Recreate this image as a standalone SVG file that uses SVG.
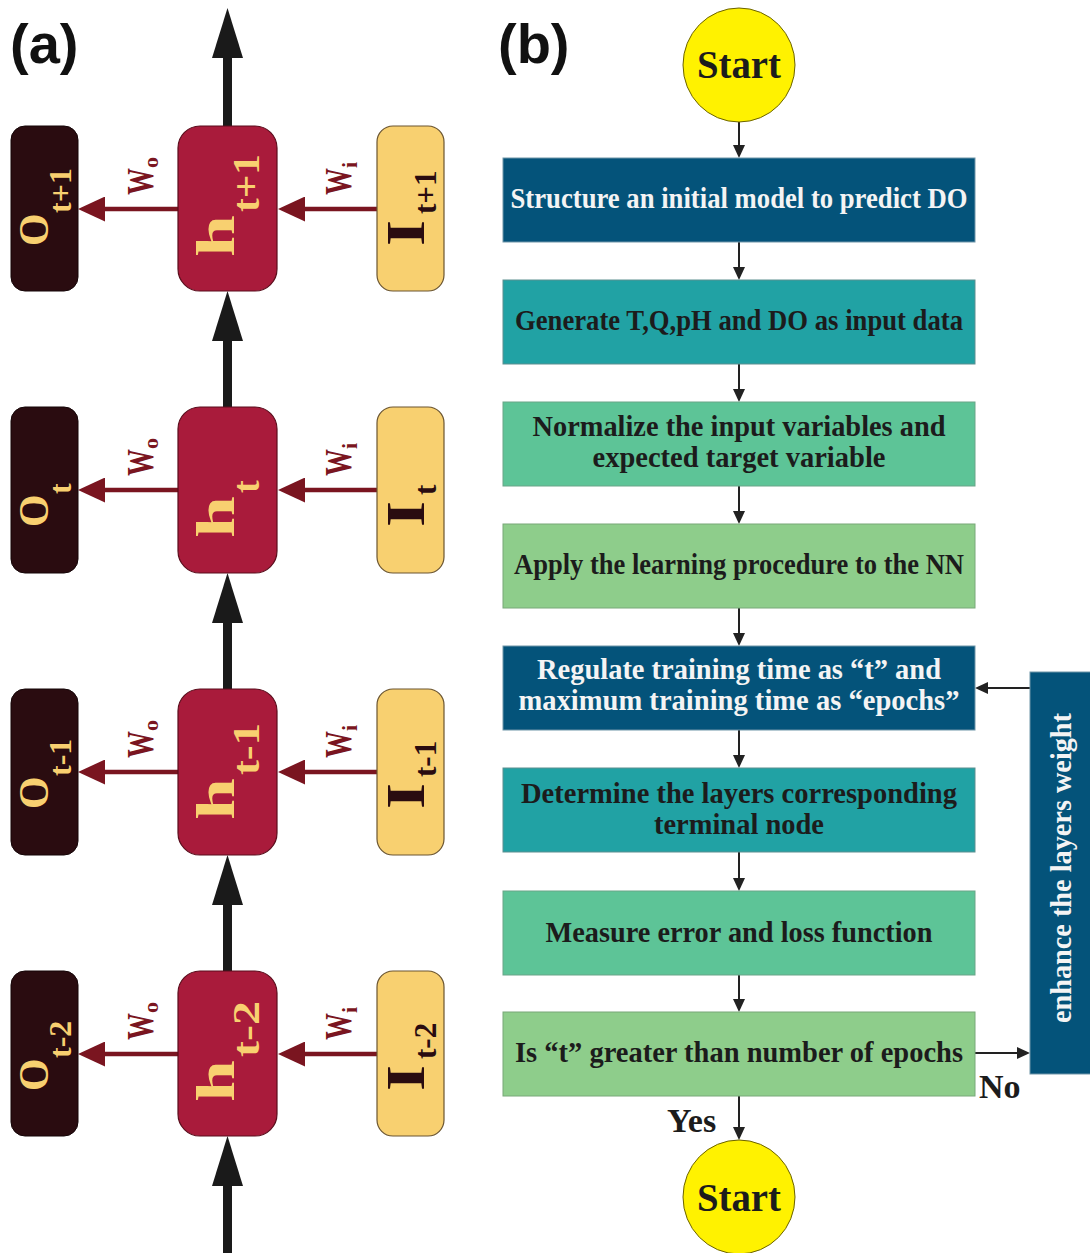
<svg xmlns="http://www.w3.org/2000/svg" width="1090" height="1253" viewBox="0 0 1090 1253">
<style>
.ser{font-family:"Liberation Serif","Times New Roman",serif;font-weight:bold}
.lab{font-family:"Liberation Sans",Arial,sans-serif;font-weight:bold;font-size:56px;fill:#111}
.obox{fill:#2a0c10;stroke:#140507;stroke-width:1}
.hbox{fill:#a91b3b;stroke:#5a0d1c;stroke-width:1.2}
.ibox{fill:#f8d070;stroke:#6b5530;stroke-width:1.2}
.ytxt{fill:#f8d070}
.dtxt{fill:#2a0c10}
.wtxt{fill:#7a1520}
.blue{fill:#04537a;stroke:#6f95a8;stroke-width:1}
.teal{fill:#21a2a4;stroke:#5c8f90;stroke-width:1}
.mint{fill:#5dc497;stroke:#6aa588;stroke-width:1}
.lg{fill:#8ecd8b;stroke:#78a878;stroke-width:1}
.bt{font-size:29px;text-anchor:middle}
.wt{fill:#f4f4f4}
.kt{fill:#1c1c1c}
.circ{fill:#fff200;stroke:#6b6200;stroke-width:1}
.big{stroke:#1a1a1a;stroke-width:9;fill:none}
.red{stroke:#7a1520;stroke-width:4.5;fill:none}
.thin{stroke:#222;stroke-width:2;fill:none}
</style>
<defs>
<marker id="mBig" markerUnits="userSpaceOnUse" viewBox="0 0 50 31" markerWidth="50" markerHeight="31" refX="2" refY="15.5" orient="auto"><path d="M0,0 L50,15.5 L0,31 z" fill="#1a1a1a"/></marker>
<marker id="mRed" markerUnits="userSpaceOnUse" viewBox="0 0 27 25" markerWidth="27" markerHeight="25" refX="2" refY="12.5" orient="auto"><path d="M0,0 L27,12.5 L0,25 z" fill="#7a1520"/></marker>
<marker id="mThin" markerUnits="userSpaceOnUse" viewBox="0 0 13 12" markerWidth="13" markerHeight="12" refX="2" refY="6" orient="auto"><path d="M0,0 L13,6 L0,12 z" fill="#222"/></marker>
</defs>

<text class="lab" x="10" y="63">(a)</text>
<text class="lab" x="498" y="63">(b)</text>

<g id="connectors">
  <line class="big" x1="227.5" y1="126" x2="227.5" y2="56" marker-end="url(#mBig)"/>
  <line class="big" x1="227.5" y1="407" x2="227.5" y2="339" marker-end="url(#mBig)"/>
  <line class="big" x1="227.5" y1="689" x2="227.5" y2="621" marker-end="url(#mBig)"/>
  <line class="big" x1="227.5" y1="971" x2="227.5" y2="903" marker-end="url(#mBig)"/>
  <line class="big" x1="227.5" y1="1253" x2="227.5" y2="1184" marker-end="url(#mBig)"/>
  <line class="red" x1="178" y1="209" x2="103" y2="209" marker-end="url(#mRed)"/>
  <line class="red" x1="377" y1="209" x2="303" y2="209" marker-end="url(#mRed)"/>
  <line class="red" x1="178" y1="490" x2="103" y2="490" marker-end="url(#mRed)"/>
  <line class="red" x1="377" y1="490" x2="303" y2="490" marker-end="url(#mRed)"/>
  <line class="red" x1="178" y1="772" x2="103" y2="772" marker-end="url(#mRed)"/>
  <line class="red" x1="377" y1="772" x2="303" y2="772" marker-end="url(#mRed)"/>
  <line class="red" x1="178" y1="1054" x2="103" y2="1054" marker-end="url(#mRed)"/>
  <line class="red" x1="377" y1="1054" x2="303" y2="1054" marker-end="url(#mRed)"/>
  <line class="thin" x1="739" y1="122" x2="739" y2="147" marker-end="url(#mThin)"/>
  <line class="thin" x1="739" y1="242" x2="739" y2="269" marker-end="url(#mThin)"/>
  <line class="thin" x1="739" y1="364" x2="739" y2="391" marker-end="url(#mThin)"/>
  <line class="thin" x1="739" y1="486" x2="739" y2="513" marker-end="url(#mThin)"/>
  <line class="thin" x1="739" y1="608" x2="739" y2="635" marker-end="url(#mThin)"/>
  <line class="thin" x1="739" y1="730" x2="739" y2="757" marker-end="url(#mThin)"/>
  <line class="thin" x1="739" y1="852" x2="739" y2="880" marker-end="url(#mThin)"/>
  <line class="thin" x1="739" y1="975" x2="739" y2="1001" marker-end="url(#mThin)"/>
  <line class="thin" x1="739" y1="1096" x2="739" y2="1129" marker-end="url(#mThin)"/>
  <line class="thin" x1="1030" y1="688" x2="986" y2="688" marker-end="url(#mThin)"/>
  <line class="thin" x1="975" y1="1053" x2="1019" y2="1053" marker-end="url(#mThin)"/>
  <text class="ser kt" x="979" y="1098" font-size="34">No</text>
  <text class="ser kt" x="667" y="1132" font-size="34">Yes</text>
  <g class="wtxt ser">
    <text transform="translate(153,195) rotate(-90)" font-size="38" textLength="27" lengthAdjust="spacingAndGlyphs">W</text>
    <text transform="translate(158,168) rotate(-90)" font-size="22">o</text>
    <text transform="translate(351,195) rotate(-90)" font-size="38" textLength="27" lengthAdjust="spacingAndGlyphs">W</text>
    <text transform="translate(357,168) rotate(-90)" font-size="22">i</text>
    <text transform="translate(153,476) rotate(-90)" font-size="38" textLength="27" lengthAdjust="spacingAndGlyphs">W</text>
    <text transform="translate(158,449) rotate(-90)" font-size="22">o</text>
    <text transform="translate(351,476) rotate(-90)" font-size="38" textLength="27" lengthAdjust="spacingAndGlyphs">W</text>
    <text transform="translate(357,449) rotate(-90)" font-size="22">i</text>
    <text transform="translate(153,758) rotate(-90)" font-size="38" textLength="27" lengthAdjust="spacingAndGlyphs">W</text>
    <text transform="translate(158,731) rotate(-90)" font-size="22">o</text>
    <text transform="translate(351,758) rotate(-90)" font-size="38" textLength="27" lengthAdjust="spacingAndGlyphs">W</text>
    <text transform="translate(357,731) rotate(-90)" font-size="22">i</text>
    <text transform="translate(153,1040) rotate(-90)" font-size="38" textLength="27" lengthAdjust="spacingAndGlyphs">W</text>
    <text transform="translate(158,1013) rotate(-90)" font-size="22">o</text>
    <text transform="translate(351,1040) rotate(-90)" font-size="38" textLength="27" lengthAdjust="spacingAndGlyphs">W</text>
    <text transform="translate(357,1013) rotate(-90)" font-size="22">i</text>
  </g>
</g>

<g id="o-t1" transform="translate(0,126)">
  <rect class="obox" x="11" y="0" width="67" height="165" rx="14"/>
  <text class="ser ytxt" transform="translate(48,120) rotate(-90)" font-size="42">O</text>
  <text class="ser ytxt" transform="translate(71,87) rotate(-90)" font-size="32">t+1</text>
</g>
<g id="h-t1" transform="translate(0,126)">
  <rect class="hbox" x="178" y="0" width="99" height="165" rx="22"/>
  <text class="ser ytxt" transform="translate(234,131) rotate(-90)" font-size="54" textLength="42" lengthAdjust="spacingAndGlyphs">h</text>
  <text class="ser ytxt" transform="translate(259,86) rotate(-90)" font-size="38" textLength="58" lengthAdjust="spacingAndGlyphs">t+1</text>
</g>
<g id="i-t1" transform="translate(0,126)">
  <rect class="ibox" x="377" y="0" width="67" height="165" rx="16"/>
  <text class="ser dtxt" transform="translate(424,120) rotate(-90)" font-size="54" textLength="26" lengthAdjust="spacingAndGlyphs">I</text>
  <text class="ser dtxt" transform="translate(436,88) rotate(-90)" font-size="31">t+1</text>
</g>

<g id="o-t" transform="translate(0,407)">
  <rect class="obox" x="11" y="0" width="67" height="166" rx="14"/>
  <text class="ser ytxt" transform="translate(48,120) rotate(-90)" font-size="42">O</text>
  <text class="ser ytxt" transform="translate(71,87) rotate(-90)" font-size="32">t</text>
</g>
<g id="h-t" transform="translate(0,407)">
  <rect class="hbox" x="178" y="0" width="99" height="166" rx="22"/>
  <text class="ser ytxt" transform="translate(234,131) rotate(-90)" font-size="54" textLength="42" lengthAdjust="spacingAndGlyphs">h</text>
  <text class="ser ytxt" transform="translate(259,86) rotate(-90)" font-size="38">t</text>
</g>
<g id="i-t" transform="translate(0,407)">
  <rect class="ibox" x="377" y="0" width="67" height="166" rx="16"/>
  <text class="ser dtxt" transform="translate(424,120) rotate(-90)" font-size="54" textLength="26" lengthAdjust="spacingAndGlyphs">I</text>
  <text class="ser dtxt" transform="translate(436,88) rotate(-90)" font-size="31">t</text>
</g>

<g id="o-tm1" transform="translate(0,689)">
  <rect class="obox" x="11" y="0" width="67" height="166" rx="14"/>
  <text class="ser ytxt" transform="translate(48,120) rotate(-90)" font-size="42">O</text>
  <text class="ser ytxt" transform="translate(71,87) rotate(-90)" font-size="32">t-1</text>
</g>
<g id="h-tm1" transform="translate(0,689)">
  <rect class="hbox" x="178" y="0" width="99" height="166" rx="22"/>
  <text class="ser ytxt" transform="translate(234,131) rotate(-90)" font-size="54" textLength="42" lengthAdjust="spacingAndGlyphs">h</text>
  <text class="ser ytxt" transform="translate(259,86) rotate(-90)" font-size="38" textLength="52" lengthAdjust="spacingAndGlyphs">t-1</text>
</g>
<g id="i-tm1" transform="translate(0,689)">
  <rect class="ibox" x="377" y="0" width="67" height="166" rx="16"/>
  <text class="ser dtxt" transform="translate(424,120) rotate(-90)" font-size="54" textLength="26" lengthAdjust="spacingAndGlyphs">I</text>
  <text class="ser dtxt" transform="translate(436,88) rotate(-90)" font-size="31">t-1</text>
</g>

<g id="o-tm2" transform="translate(0,971)">
  <rect class="obox" x="11" y="0" width="67" height="165" rx="14"/>
  <text class="ser ytxt" transform="translate(48,120) rotate(-90)" font-size="42">O</text>
  <text class="ser ytxt" transform="translate(71,87) rotate(-90)" font-size="32">t-2</text>
</g>
<g id="h-tm2" transform="translate(0,971)">
  <rect class="hbox" x="178" y="0" width="99" height="165" rx="22"/>
  <text class="ser ytxt" transform="translate(234,131) rotate(-90)" font-size="54" textLength="42" lengthAdjust="spacingAndGlyphs">h</text>
  <text class="ser ytxt" transform="translate(259,86) rotate(-90)" font-size="38" textLength="56" lengthAdjust="spacingAndGlyphs">t-2</text>
</g>
<g id="i-tm2" transform="translate(0,971)">
  <rect class="ibox" x="377" y="0" width="67" height="165" rx="16"/>
  <text class="ser dtxt" transform="translate(424,120) rotate(-90)" font-size="54" textLength="26" lengthAdjust="spacingAndGlyphs">I</text>
  <text class="ser dtxt" transform="translate(436,88) rotate(-90)" font-size="31">t-2</text>
</g>

<g id="start">
  <ellipse class="circ" cx="739" cy="65" rx="56" ry="57"/>
  <text class="ser kt" x="739" y="78" font-size="39" text-anchor="middle" textLength="84" lengthAdjust="spacingAndGlyphs">Start</text>
</g>
<g id="step1">
  <rect class="blue" x="503" y="158" width="472" height="84"/>
  <text class="ser bt wt" x="739" y="208" textLength="457" lengthAdjust="spacingAndGlyphs">Structure an initial model to predict DO</text>
</g>
<g id="step2">
  <rect class="teal" x="503" y="280" width="472" height="84"/>
  <text class="ser bt kt" x="739" y="330" textLength="448" lengthAdjust="spacingAndGlyphs">Generate T,Q,pH and DO as input data</text>
</g>
<g id="step3">
  <rect class="mint" x="503" y="402" width="472" height="84"/>
  <text class="ser bt kt" x="739" y="436" textLength="413" lengthAdjust="spacingAndGlyphs">Normalize the input variables and</text>
  <text class="ser bt kt" x="739" y="467" textLength="293" lengthAdjust="spacingAndGlyphs">expected target variable</text>
</g>
<g id="step4">
  <rect class="lg" x="503" y="524" width="472" height="84"/>
  <text class="ser bt kt" x="739" y="574" textLength="450" lengthAdjust="spacingAndGlyphs">Apply the learning procedure to the NN</text>
</g>
<g id="step5">
  <rect class="blue" x="503" y="646" width="472" height="84"/>
  <text class="ser bt wt" x="739" y="679" textLength="404" lengthAdjust="spacingAndGlyphs">Regulate training time as “t” and</text>
  <text class="ser bt wt" x="739" y="710" textLength="441" lengthAdjust="spacingAndGlyphs">maximum training time as “epochs”</text>
</g>
<g id="step6">
  <rect class="teal" x="503" y="768" width="472" height="84"/>
  <text class="ser bt kt" x="739" y="803" textLength="436" lengthAdjust="spacingAndGlyphs">Determine the layers corresponding</text>
  <text class="ser bt kt" x="739" y="834" textLength="170" lengthAdjust="spacingAndGlyphs">terminal node</text>
</g>
<g id="step7">
  <rect class="mint" x="503" y="891" width="472" height="84"/>
  <text class="ser bt kt" x="739" y="942" textLength="387" lengthAdjust="spacingAndGlyphs">Measure error and loss function</text>
</g>
<g id="decision">
  <rect class="lg" x="503" y="1012" width="472" height="84"/>
  <text class="ser bt kt" x="739" y="1062" textLength="448" lengthAdjust="spacingAndGlyphs">Is “t” greater than number of epochs</text>
</g>
<g id="enhance">
  <rect class="blue" x="1030" y="672" width="62" height="402"/>
  <text class="ser wt" transform="translate(1071,868) rotate(-90)" font-size="29" text-anchor="middle" textLength="310" lengthAdjust="spacingAndGlyphs">enhance the layers weight</text>
</g>
<g id="end">
  <ellipse class="circ" cx="739" cy="1197" rx="56" ry="57"/>
  <text class="ser kt" x="739" y="1211" font-size="39" text-anchor="middle" textLength="84" lengthAdjust="spacingAndGlyphs">Start</text>
</g>
</svg>
